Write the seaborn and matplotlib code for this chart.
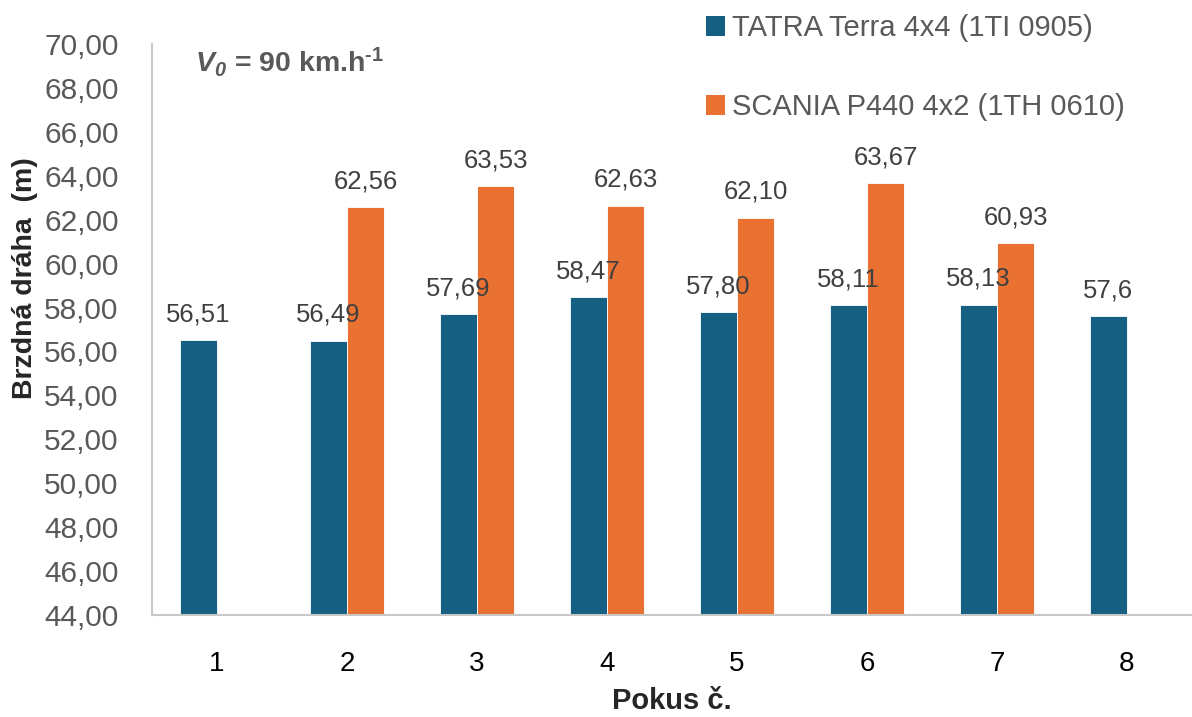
import matplotlib
matplotlib.use("Agg")
import matplotlib.pyplot as plt
import seaborn as sns
import numpy as np
import pandas as pd
from matplotlib.patches import Patch

pokus = ["1", "2", "3", "4", "5", "6", "7", "8"]
tatra = [56.51, 56.49, 57.69, 58.47, 57.80, 58.11, 58.13, 57.60]
scania = [np.nan, 62.56, 63.53, 62.63, 62.10, 63.67, 60.93, np.nan]
tatra_labels = ["56,51", "56,49", "57,69", "58,47", "57,80", "58,11", "58,13", "57,6"]
scania_labels = ["", "62,56", "63,53", "62,63", "62,10", "63,67", "60,93", ""]
series_names = ["TATRA Terra 4x4 (1TI 0905)", "SCANIA P440 4x2 (1TH 0610)"]
yticks = list(range(44, 71, 2))

sns.set_theme(style="white")
plt.rcParams["font.family"] = ["Liberation Sans", "DejaVu Sans"]
plt.rcParams["mathtext.fontset"] = "custom"
plt.rcParams["mathtext.rm"] = "Liberation Sans"
plt.rcParams["mathtext.it"] = "Liberation Sans:italic"
plt.rcParams["mathtext.bf"] = "Liberation Sans:bold"
plt.rcParams["mathtext.bfit"] = "Liberation Sans:bold:italic"

df = pd.DataFrame({
    "Pokus": pokus * 2,
    "value": tatra + scania,
    "series": [series_names[0]] * 8 + [series_names[1]] * 8,
})

fig = plt.figure(figsize=(11.92, 7.17), dpi=100)
ax = fig.add_axes([0.1275, 0.1423, 0.8725, 0.7963])

colors = ["#156082", "#E97132"]
sns.barplot(data=df, x="Pokus", y="value", hue="series", order=pokus,
            hue_order=series_names, palette=colors, saturation=1,
            width=0.57, gap=0, edgecolor="white", linewidth=0.6,
            ax=ax, legend=False)

ax.set_ylim(44, 70)
ax.set_xlim(-0.5, 7.5)
ax.set_yticks(yticks)
ax.set_yticklabels([f"{t:.2f}".replace(".", ",") for t in yticks],
                   fontsize=21.5, color="#595959")
ax.tick_params(axis="x", labelsize=20, colors="#000000", pad=26, length=0)
ax.tick_params(axis="y", length=0, pad=24)

for s in ["top", "right"]:
    ax.spines[s].set_visible(False)
for s in ["left", "bottom"]:
    ax.spines[s].set_color("#c8c8c8")
    ax.spines[s].set_linewidth(1.5)

ax.set_xlabel("Pokus č.", fontsize=21, fontweight="bold", labelpad=7)
ax.set_ylabel("Brzdná dráha  (m)", fontsize=20.5, fontweight="bold")
ax.yaxis.set_label_coords(-0.110, 0.59)

# data labels
off = 0.57 / 4
for i in range(8):
    if not np.isnan(tatra[i]):
        ax.annotate(tatra_labels[i], (i - off, tatra[i]), xytext=(0, 10),
                    textcoords="offset points", ha="center", va="bottom",
                    fontsize=18.5, color="#404040", zorder=5)
    if not np.isnan(scania[i]):
        ax.annotate(scania_labels[i], (i + off, scania[i]), xytext=(0, 10),
                    textcoords="offset points", ha="center", va="bottom",
                    fontsize=18.5, color="#404040", zorder=5)

ax.text(0.041, 0.968, "$\\mathbfit{V}_{\\mathbfit{0}}$ = 90 km.h$^{\\mathbf{\u2010}\\mathbf{1}}$",
        transform=ax.transAxes, fontsize=20.5, fontweight="bold",
        color="#595959", ha="left", va="center")

handles = [Patch(facecolor=c, edgecolor="none") for c in colors]
fig.legend(handles, series_names, loc="upper left", bbox_to_anchor=(0.57, 1.017),
           frameon=False, fontsize=21, labelcolor="#595959", labelspacing=1.75,
           handlelength=0.65, handleheight=0.65, handletextpad=0.25)

fig.savefig("out.png", dpi=100)
